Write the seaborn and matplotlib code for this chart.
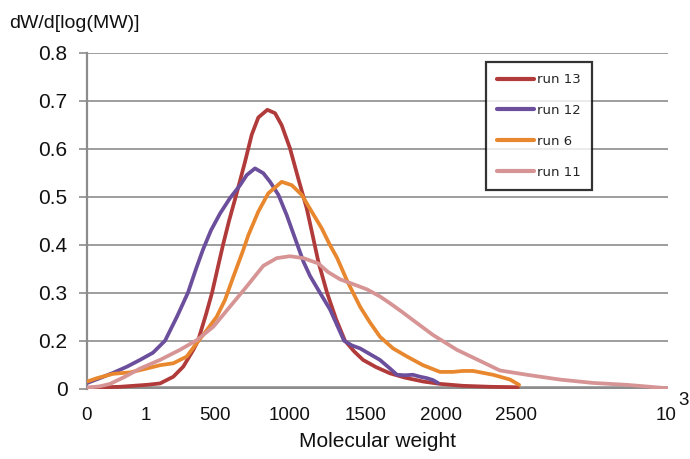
import numpy as np
import pandas as pd
import matplotlib
matplotlib.use("Agg")
import matplotlib.pyplot as plt
import seaborn as sns

# ---------------- data ----------------
runs = ["run 13", "run 12", "run 6", "run 11"]
colors = ["#B03B3A", "#6C4F9C", "#E8872D", "#D69494"]

mw_run13 = [-345, -128, 49, 138, 226, 292, 359, 390, 443, 483, 523, 556, 596, 649,
            702, 746, 790, 850, 901, 945, 1000, 1055, 1111, 1155, 1188, 1246, 1306,
            1365, 1425, 1485, 1571, 1664, 1764, 1883, 1996, 2148, 2328, 2513]
dw_run13 = [0.102, 0.104, 0.108, 0.111, 0.125, 0.146, 0.181, 0.200, 0.255, 0.300,
            0.355, 0.400, 0.450, 0.510, 0.573, 0.629, 0.665, 0.681, 0.674, 0.649,
            0.601, 0.538, 0.476, 0.413, 0.365, 0.300, 0.245, 0.200, 0.178, 0.160,
            0.145, 0.132, 0.123, 0.115, 0.110, 0.106, 0.104, 0.103]

mw_run12 = [-345, -261, -174, -81, 5, 91, 171, 250, 323, 377, 423, 476, 536, 602,
            669, 713, 768, 823, 868, 923, 978, 1034, 1089, 1133, 1199, 1266, 1359,
            1412, 1465, 1531, 1597, 1664, 1710, 1764, 1816, 1863, 1909, 1949, 1982]
dw_run12 = [0.112, 0.122, 0.133, 0.146, 0.160, 0.175, 0.200, 0.250, 0.300, 0.350,
            0.390, 0.430, 0.465, 0.497, 0.524, 0.545, 0.559, 0.549, 0.531, 0.504,
            0.462, 0.413, 0.365, 0.335, 0.300, 0.265, 0.200, 0.190, 0.184, 0.172,
            0.160, 0.142, 0.129, 0.128, 0.129, 0.125, 0.122, 0.118, 0.112]

mw_run6 = [-345, -280, -174, -61, 49, 138, 226, 315, 381, 448, 514, 569, 624, 690,
           724, 790, 856, 945, 1012, 1078, 1144, 1211, 1266, 1312, 1379, 1465, 1531,
           1598, 1684, 1777, 1883, 1996, 2082, 2148, 2215, 2348, 2461, 2521]
dw_run6 = [0.115, 0.122, 0.131, 0.134, 0.142, 0.149, 0.153, 0.167, 0.195, 0.222,
           0.250, 0.285, 0.333, 0.389, 0.420, 0.469, 0.507, 0.531, 0.524, 0.504,
           0.469, 0.434, 0.399, 0.373, 0.325, 0.271, 0.238, 0.208, 0.184, 0.167,
           0.149, 0.135, 0.135, 0.137, 0.137, 0.129, 0.119, 0.108]

mw_run11 = [-347, -261, -194, -95, 5, 138, 270, 381, 491, 602, 713, 823, 912, 1000,
            1089, 1188, 1253, 1332, 1418, 1511, 1598, 1664, 1744, 1816, 1949, 2108,
            2261, 2393, 2573, 2792, 3011, 3237, 3502]
dw_run11 = [0.102, 0.105, 0.110, 0.125, 0.142, 0.160, 0.181, 0.201, 0.229, 0.271,
            0.313, 0.356, 0.372, 0.376, 0.372, 0.361, 0.343, 0.328, 0.318, 0.307,
            0.292, 0.278, 0.260, 0.243, 0.212, 0.181, 0.158, 0.138, 0.129, 0.119,
            0.112, 0.108, 0.101]

x_tick_labels = ["0", "1", "500", "1000", "1500", "2000", "2500", "10"]
x_tick_values = [-347, 45, 500, 1000, 1500, 2000, 2500, 3495]
y_tick_values = [0.1, 0.2, 0.3, 0.4, 0.5, 0.6, 0.7, 0.8]
y_tick_labels = ["0", "0.2", "0.3", "0.4", "0.5", "0.6", "0.7", "0.8"]

series = {
    "run 13": (mw_run13, dw_run13),
    "run 12": (mw_run12, dw_run12),
    "run 6": (mw_run6, dw_run6),
    "run 11": (mw_run11, dw_run11),
}
frames = []
for name in runs:
    mw, dw = series[name]
    frames.append(pd.DataFrame({"MW": mw, "dW": dw, "run": name}))
df = pd.concat(frames, ignore_index=True)

# ---------------- figure ----------------
sns.set_style("white")
plt.rcParams["font.family"] = ["Liberation Sans", "DejaVu Sans"]

fig = plt.figure(figsize=(6.9, 4.59), dpi=100)
ax = fig.add_axes([87 / 690, 1 - 388.7 / 459, 581 / 690, 336 / 459])

grid_color = "#8C8C8C"
for yv in y_tick_values[1:]:
    ax.axhline(yv, color=grid_color, lw=1.2, zorder=1)
ax.axhline(0.1, color=grid_color, lw=4.0, zorder=1.5, solid_capstyle="butt")

sns.lineplot(data=df, x="MW", y="dW", hue="run", hue_order=runs,
             palette=dict(zip(runs, colors)), sort=False, estimator=None,
             linewidth=2.7, ax=ax, zorder=3)
for line in ax.get_lines()[-len(runs):]:
    line.set_solid_joinstyle("round")
    line.set_solid_capstyle("round")

ax.set_xlim(-347, 3509)
ax.set_ylim(0.1, 0.8)
ax.set_xticks(x_tick_values)
ax.set_xticklabels(x_tick_labels, fontsize=13.5, color="#111111")
ax.set_yticks(y_tick_values)
ax.set_yticklabels(y_tick_labels, fontsize=15, color="#111111")
ax.tick_params(axis="x", length=0, pad=13)
ax.tick_params(axis="y", length=6, width=1.2, color=grid_color, pad=8, left=True)
ax.text(1.026, -0.035, "3", transform=ax.transAxes, fontsize=13.5,
        ha="center", va="center", color="#111111")

for side in ["top", "right", "bottom"]:
    ax.spines[side].set_visible(False)
ax.spines["left"].set_color(grid_color)
ax.spines["left"].set_linewidth(1.6)
ax.set_ylabel("")
ax.set_xlabel("Molecular weight", fontsize=15, labelpad=6, color="#111111")
fig.text(9 / 690, 1 - 27.5 / 459, "dW/d[log(MW)]", fontsize=14,
         ha="left", va="baseline", color="#111111")

handles, labels = ax.get_legend_handles_labels()
leg = ax.legend(handles, labels, loc="upper left",
                bbox_to_anchor=(486 / 690, 1 - 62 / 459),
                bbox_transform=fig.transFigure,
                prop={"family": "DejaVu Sans", "size": 9.5},
                frameon=True, fancybox=False, edgecolor="black",
                handlelength=2.8, handletextpad=0.2, labelspacing=1.35,
                borderpad=0.85, borderaxespad=0)
leg.get_frame().set_linewidth(1.6)
for line in leg.get_lines():
    line.set_linewidth(3.0)

fig.savefig("out.png", dpi=100)
